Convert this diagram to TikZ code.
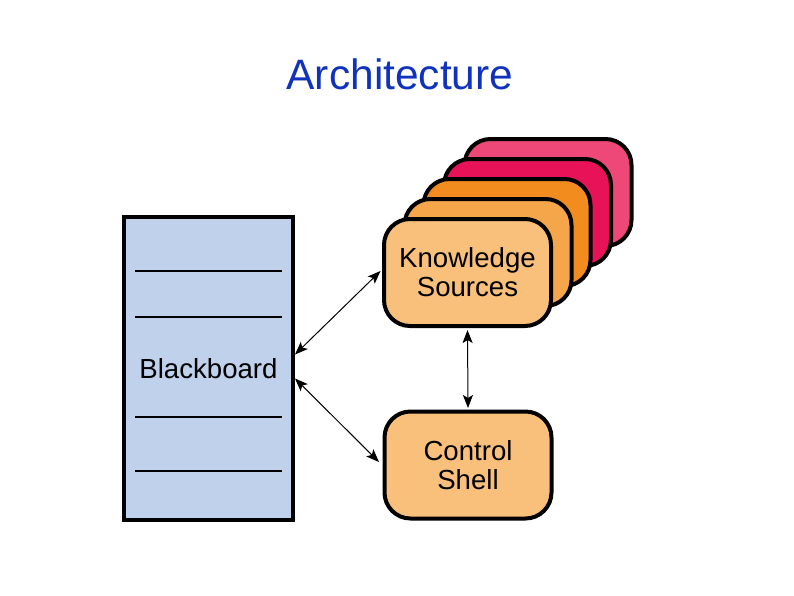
\documentclass[tikz,border=0pt]{standalone}
\usepackage{fontspec}
\setmainfont{Liberation Sans}
\usetikzlibrary{arrows.meta}
\definecolor{titleblue}{HTML}{1133BB}
\definecolor{bbfill}{HTML}{C0D1EC}
\definecolor{ksA}{HTML}{F9C07C}
\definecolor{ksB}{HTML}{F6A64A}
\definecolor{ksC}{HTML}{F28C1E}
\definecolor{ksD}{HTML}{E81258}
\definecolor{ksE}{HTML}{EE4878}
\tikzset{
  card/.style={draw=black, line width=4pt, rounded corners=26pt, minimum width=167pt, minimum height=107pt, inner sep=0pt, align=center, font=\fontsize{27.6}{29}\selectfont},
  board/.style={draw=black, line width=4pt, fill=bbfill, minimum width=169pt, minimum height=303pt, inner sep=0pt, font=\fontsize{27.6}{29}\selectfont},
  rule/.style={line width=1.2pt},
  link/.style={line width=1pt, {Stealth[length=13pt,width=10pt,inset=3pt]}-{Stealth[length=13pt,width=10pt,inset=3pt]}}
}
\begin{document}
\begin{tikzpicture}[x=1pt,y=-1pt]
\useasboundingbox (0,0) rectangle (794,595);
\node[font=\fontsize{42.5}{44}\selectfont, text=titleblue] (title) at (400,74) {Architecture};
% blackboard
\node[board] (bb) at (208.5,368.5) {Blackboard};
\draw[rule] (135,271) -- (282,271);
\draw[rule] (135,317) -- (282,317);
\draw[rule] (135,417) -- (282,417);
\draw[line width=2pt] (135,471) -- (282,471);
% knowledge source stack
\node[card, fill=ksE] (ks4) at (548,192.5) {};
\node[card, fill=ksD] (ks3) at (527.5,212.5) {};
\node[card, fill=ksC] (ks2) at (507,232.5) {};
\node[card, fill=ksB] (ks1) at (488,252.5) {};
\node[card, fill=ksA] (ks) at (467.5,272.5) {Knowledge\\Sources};
% control shell
\node[card, fill=ksA] (cs) at (468,465) {Control\\Shell};
% connectors
\draw[link] ([yshift=14pt]bb.east) -- ([shift={(-1.5pt,1.5pt)}]ks.west);
\draw[link] ([yshift=-10pt]bb.east) -- ([shift={(-3.5pt,3pt)}]cs.west);
\draw[link] ([yshift=-2pt]ks.south) -- ([yshift=1.5pt]cs.north);
\end{tikzpicture}
\end{document}
